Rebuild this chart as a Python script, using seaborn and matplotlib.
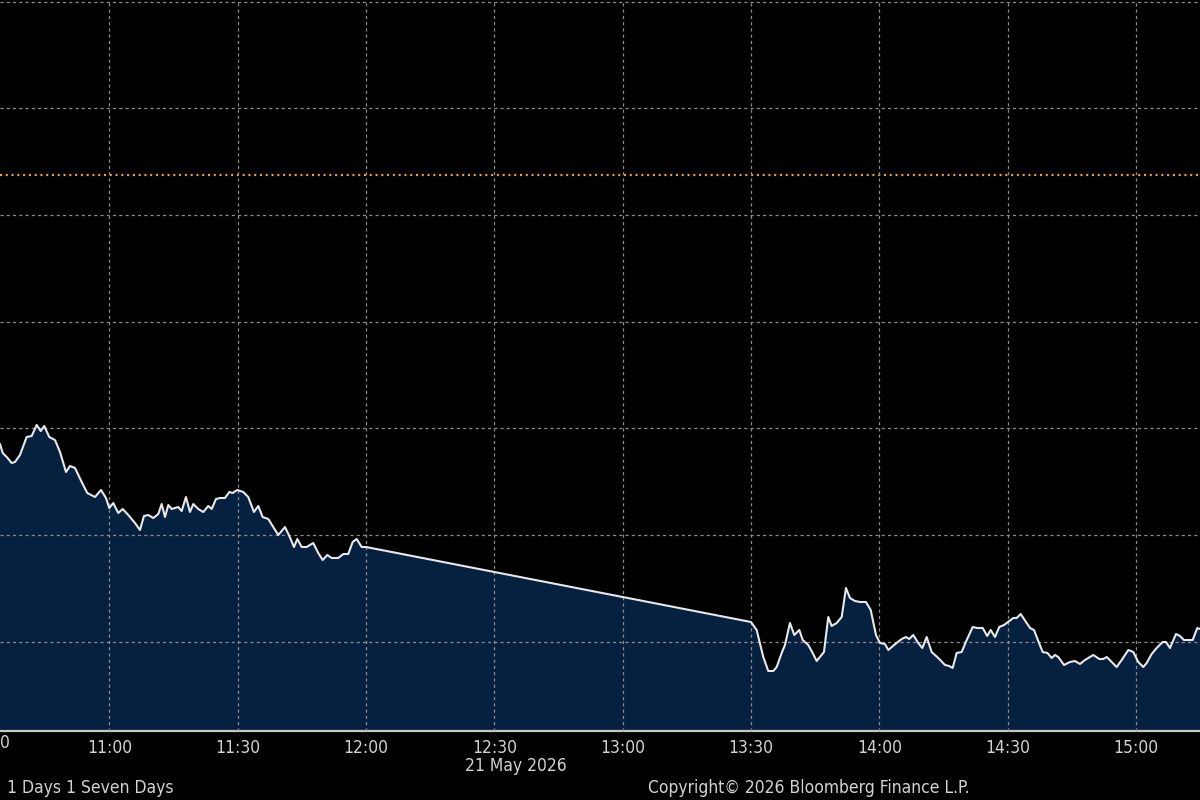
import numpy as np
import pandas as pd
import matplotlib
matplotlib.use("Agg")
import matplotlib.pyplot as plt
import matplotlib.dates as mdates
import seaborn as sns

# Intraday prices, 21 May 2026
times = [
    "10:34:24", "10:35:02", "10:35:58", "10:37:08", "10:37:54", "10:39:04", "10:40:38", "10:41:48",
    "10:42:59", "10:43:55", "10:44:45", "10:45:55", "10:47:15", "10:48:26", "10:49:50", "10:50:46",
    "10:51:56", "10:53:30", "10:54:49", "10:56:37", "10:58:01", "10:59:11", "10:59:57", "11:00:53",
    "11:02:03", "11:03:05", "11:04:24", "11:05:58", "11:07:08", "11:08:04", "11:09:04", "11:10:15",
    "11:11:25", "11:12:12", "11:12:59", "11:13:45", "11:14:33", "11:16:05", "11:16:53", "11:17:53",
    "11:18:49", "11:19:36", "11:20:46", "11:21:56", "11:23:06", "11:23:54", "11:24:54", "11:25:50",
    "11:27:00", "11:28:01", "11:28:48", "11:29:53", "11:31:17", "11:32:27", "11:33:47", "11:34:48",
    "11:35:49", "11:37:08", "11:38:10", "11:39:28", "11:41:02", "11:42:03", "11:43:09", "11:43:55",
    "11:44:57", "11:46:07", "11:47:39", "11:48:49", "11:49:51", "11:50:56", "11:51:57", "11:53:30",
    "11:54:40", "11:55:50", "11:56:52", "11:57:48", "11:58:58", "12:00:00",
    "13:30:00", "13:31:20", "13:32:53", "13:34:03", "13:35:13", "13:36:01", "13:37:11", "13:37:57",
    "13:39:07", "13:40:08", "13:41:18", "13:42:06", "13:43:24", "13:44:26", "13:45:22", "13:46:08",
    "13:47:04", "13:48:05", "13:48:52", "13:50:03", "13:51:13", "13:52:13", "13:53:09", "13:54:19",
    "13:55:30", "13:56:54", "13:58:00", "13:59:14", "14:00:10", "14:01:20", "14:02:07", "14:03:27",
    "14:05:15", "14:06:15", "14:07:01", "14:07:57", "14:09:07", "14:10:04", "14:11:05", "14:12:15",
    "14:13:48", "14:15:22", "14:16:22", "14:17:10", "14:18:06", "14:19:16", "14:20:27", "14:21:51",
    "14:22:55", "14:24:11", "14:25:15", "14:26:03", "14:27:04", "14:28:04", "14:29:10", "14:30:24",
    "14:31:20", "14:32:08", "14:33:04", "14:34:19", "14:35:15", "14:36:11", "14:37:11", "14:38:13",
    "14:39:20", "14:40:19", "14:41:05", "14:41:52", "14:43:12", "14:44:36", "14:45:46", "14:46:56",
    "14:48:06", "14:50:03", "14:51:27", "14:52:23", "14:53:11", "14:54:21", "14:55:31", "14:56:41",
    "14:58:14", "14:59:24", "15:00:34", "15:01:44", "15:02:32", "15:03:42", "15:04:52", "15:06:16",
    "15:07:03", "15:07:59", "15:09:23", "15:10:19", "15:11:15", "15:13:17", "15:14:22", "15:15:00",
]
prices = [
    25.93, 25.66, 25.54, 25.36, 25.39, 25.60, 26.14, 26.17,
    26.50, 26.32, 26.47, 26.14, 26.05, 25.69, 25.09, 25.27,
    25.21, 24.79, 24.46, 24.34, 24.55, 24.31, 24.01, 24.16,
    23.86, 23.98, 23.80, 23.56, 23.35, 23.77, 23.80, 23.71,
    23.83, 24.13, 23.74, 24.10, 23.98, 24.04, 23.92, 24.34,
    23.89, 24.13, 23.98, 23.89, 24.07, 23.98, 24.28, 24.31,
    24.31, 24.49, 24.46, 24.55, 24.49, 24.34, 23.89, 24.07,
    23.74, 23.68, 23.47, 23.20, 23.44, 23.17, 22.84, 23.08,
    22.84, 22.84, 22.96, 22.66, 22.45, 22.60, 22.51, 22.51,
    22.63, 22.63, 22.99, 23.08, 22.84, 22.84,
    20.59, 20.35, 19.54, 19.12, 19.12, 19.24, 19.66, 19.90,
    20.56, 20.20, 20.35, 20.05, 19.90, 19.66, 19.42, 19.54,
    19.69, 20.74, 20.47, 20.56, 20.74, 21.61, 21.31, 21.22,
    21.19, 21.19, 20.95, 20.20, 19.96, 19.93, 19.75, 19.90,
    20.08, 20.14, 20.08, 20.20, 19.96, 19.81, 20.14, 19.69,
    19.51, 19.30, 19.27, 19.21, 19.66, 19.69, 20.05, 20.44,
    20.41, 20.41, 20.17, 20.35, 20.14, 20.44, 20.50, 20.62,
    20.71, 20.71, 20.83, 20.59, 20.41, 20.35, 20.02, 19.69,
    19.66, 19.51, 19.60, 19.54, 19.30, 19.39, 19.42, 19.33,
    19.45, 19.60, 19.48, 19.48, 19.54, 19.39, 19.24, 19.45,
    19.75, 19.69, 19.39, 19.24, 19.36, 19.63, 19.81, 19.99,
    19.99, 19.81, 20.23, 20.17, 20.05, 20.05, 20.41, 20.38,
]
ref_level = 34.0          # orange dotted reference line
y_grid = [20.0, 23.2, 26.4, 29.6, 32.8, 36.0, 39.2]
y_range = (17.32, 39.25)
x_range = ("10:34:24", "15:15:00")
date_label = "21 May 2026"
left_note = "1 Days 1 Seven Days"
copyright_note = "Copyright\u00a9 2026 Bloomberg Finance L.P."

day = "2026-05-21 "
df = pd.DataFrame({"time": pd.to_datetime([day + t for t in times]), "price": prices})

sns.set_style("dark")
plt.rcParams["font.family"] = ["DejaVu Sans"]
plt.rcParams["font.stretch"] = "condensed"

BG = "#000000"
TXT = "#d2d2d2"
GRID = "#8c8c8c"
FS = 12.5

fig = plt.figure(figsize=(12, 8), dpi=100, facecolor=BG)
ax = fig.add_axes([0, 69 / 800, 1, 731 / 800])
ax.set_facecolor(BG)

ax.fill_between(df["time"], df["price"], y_range[0], color="#062040", zorder=1, lw=0)
sns.lineplot(data=df, x="time", y="price", ax=ax, color="#e8e8e8", lw=1.5, zorder=3)
ax.axhline(ref_level, color="#f4a23a", lw=1.6, ls=(0, (0.9, 1.7)), zorder=2)

ax.set_xlim(pd.Timestamp(day + x_range[0]), pd.Timestamp(day + x_range[1]))
ax.set_ylim(*y_range)
ax.set_yticks(y_grid)

ax.xaxis.set_major_locator(mdates.MinuteLocator(byminute=[0, 30]))
ax.xaxis.set_minor_locator(mdates.MinuteLocator(byminute=[15, 45]))
ax.xaxis.set_major_formatter(mdates.DateFormatter("%H:%M"))

ax.grid(True, which="major", color=GRID, lw=0.9, ls=(0, (2.5, 2.5)), zorder=4)
ax.set_axisbelow(False)
ax.tick_params(axis="y", left=False, labelleft=False, right=False)
ax.tick_params(axis="x", which="both", direction="out", length=4, color="#bdbdbd",
               labelcolor=TXT, labelsize=FS, pad=2)
ax.set_xlabel("")
ax.set_ylabel("")

for side in ["top", "left", "right"]:
    ax.spines[side].set_visible(False)
ax.spines["bottom"].set_color("#c8c8c8")
ax.spines["bottom"].set_linewidth(1.6)

# the 10:30 label lies off the left edge; only its last digit shows
ax.text(0, -0.0045, "0", transform=ax.transAxes, ha="left", va="top",
        color=TXT, fontsize=FS, clip_on=False)

fig.text(516 / 1200, 1 - 766 / 800, date_label, ha="center", va="center", color=TXT, fontsize=FS)
fig.text(7 / 1200, 1 - 788 / 800, left_note, ha="left", va="center", color=TXT, fontsize=FS)
fig.text(648 / 1200, 1 - 788 / 800, copyright_note, ha="left", va="center", color=TXT, fontsize=FS)

fig.savefig("out.png", dpi=100, facecolor=BG)
